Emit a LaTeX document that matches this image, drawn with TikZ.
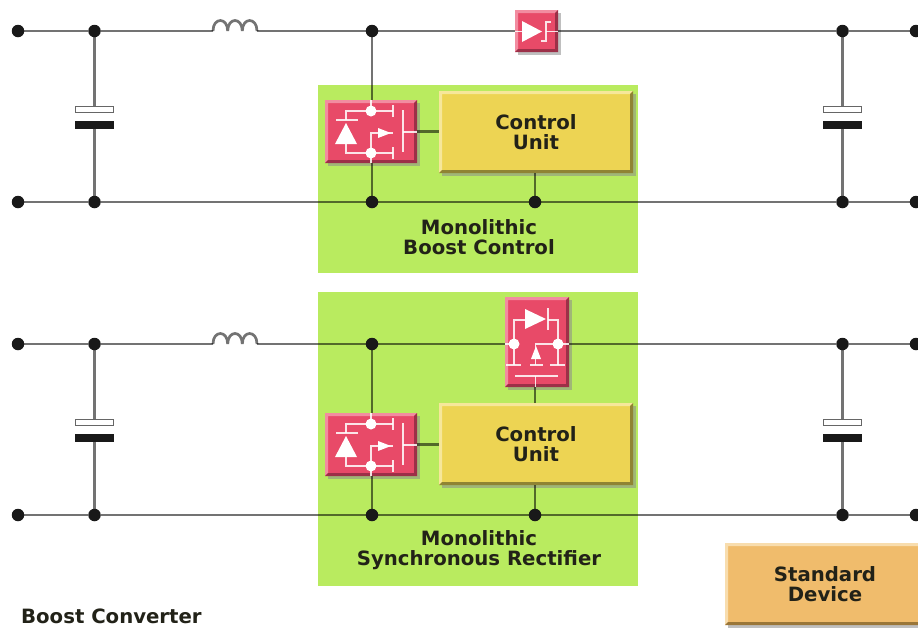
\documentclass[tikz,border=0pt]{standalone}
\usepackage{fontspec}
\setmainfont{DejaVu Sans}
\definecolor{greenbg}{HTML}{B9EB5F}
\definecolor{redbase}{HTML}{E84A68}
\definecolor{redlight}{HTML}{F28CA0}
\definecolor{reddark}{HTML}{9C3048}
\definecolor{yellowbase}{HTML}{EDD453}
\definecolor{yellowlight}{HTML}{F6E79A}
\definecolor{yellowdark}{HTML}{8F8433}
\definecolor{orangebase}{HTML}{F0BC6C}
\definecolor{orangelight}{HTML}{F8DDAE}
\definecolor{orangedark}{HTML}{9A7638}
\definecolor{inkc}{HTML}{222218}
\tikzset{
  x=1pt,y=-1pt,
  wire/.style={draw=black,draw opacity=.55,line width=2.7pt},
  dot/.style={circle,fill=black!90,inner sep=0pt,minimum size=12.5pt},
  sym/.style={draw=white,draw opacity=.85,line width=1.5pt},
  symfill/.style={fill=white},
  symdot/.style={circle,fill=white,inner sep=0pt,minimum size=11pt},
  labeltext/.style={font=\fontsize{19.7}{20}\selectfont\bfseries,text=inkc,align=center,inner sep=0pt},
  panel/.style={fill=greenbg},
  platew/.style={draw=black!60,fill=white,line width=1.4pt,inner sep=0pt,minimum width=38pt,minimum height=6.5pt},
  plateb/.style={fill=black!90,inner sep=0pt,minimum width=39pt,minimum height=8pt},
}
% name, x1, y1, x2, y2, colour stem, text
\newcommand{\bevelblock}[7]{%
  \fill[black!45,opacity=.55] ({#2+3},{#3+3}) rectangle ({#4+3},{#5+3});
  \node[fill=#6base,inner sep=0pt,minimum width={(#4-#2)*1pt},minimum height={(#5-#3)*1pt},labeltext]
    (#1) at ({(#2+#4)/2},{(#3+#5)/2}) {#7};
  \fill[#6light] (#2,#3) -- (#4,#3) -- ({#4-3},{#3+3}) -- ({#2+3},{#3+3}) -- ({#2+3},{#5-3}) -- (#2,#5) -- cycle;
  \fill[#6dark] (#4,#5) -- (#2,#5) -- ({#2+3},{#5-3}) -- ({#4-3},{#5-3}) -- ({#4-3},{#3+3}) -- (#4,#3) -- cycle;
}
\newcommand{\switchsym}{%
  \fill[symfill] (346,123) -- (357,144) -- (335,144) -- cycle;
  \draw[sym] (336,120) -- (358,120);
  \draw[sym] (346,120) -- (346,111) -- (393,111);
  \draw[sym] (393,105) -- (393,117);
  \draw[sym] (346,144) -- (346,153) -- (393,153);
  \draw[sym] (393,147) -- (393,159);
  \draw[sym] (371,153) -- (371,133) -- (393,133);
  \fill[symfill] (391,133) -- (378,128) -- (378,138) -- cycle;
  \draw[sym] (403,110) -- (403,152);
  \draw[sym] (403,132) -- (417,132);
  \node[symdot] at (371,111) {};
  \node[symdot] at (371,153) {};
  \draw[sym] (371,100) -- (371,111);
  \draw[sym] (371,153) -- (371,163);
}
\begin{document}
\begin{tikzpicture}
\clip (0,0) rectangle (918,627);
\fill[white] (0,0) rectangle (918,627);
% panels
\fill[panel] (318,85) rectangle (638,273);
\fill[panel] (318,292) rectangle (638,586);

% === blocks, upper circuit
\bevelblock{topdiode}{515}{10}{558}{52}{red}{}
\bevelblock{swa}{325}{100}{417}{163}{red}{}
\bevelblock{ctrla}{439}{91}{633}{173}{yellow}{Control\\Unit}
% === blocks, lower circuit
\bevelblock{sync}{505}{297}{569}{387}{red}{}
\bevelblock{swb}{325}{413}{417}{476}{red}{}
\bevelblock{ctrlb}{439}{403}{633}{485}{yellow}{Control\\Unit}
\bevelblock{std}{725}{543}{925}{625}{orange}{Standard\\Device}

% === dots
\node[dot] (a1) at (18,31) {};
\node[dot] (a2) at (94.5,31) {};
\node[dot] (a3) at (372,31) {};
\node[dot] (a4) at (842.5,31) {};
\node[dot] (a5) at (916,31) {};
\node[dot] (b1) at (18,202) {};
\node[dot] (b2) at (94.5,202) {};
\node[dot] (b3) at (372,202) {};
\node[dot] (b4) at (535,202) {};
\node[dot] (b5) at (842.5,202) {};
\node[dot] (b6) at (916,202) {};
\node[dot] (c1) at (18,344) {};
\node[dot] (c2) at (94.5,344) {};
\node[dot] (c3) at (372,344) {};
\node[dot] (c4) at (842.5,344) {};
\node[dot] (c5) at (916,344) {};
\node[dot] (d1) at (18,515) {};
\node[dot] (d2) at (94.5,515) {};
\node[dot] (d3) at (372,515) {};
\node[dot] (d4) at (535,515) {};
\node[dot] (d5) at (842.5,515) {};
\node[dot] (d6) at (916,515) {};

% === capacitors
\node[platew] (capa1w) at (94.5,109.5) {};
\node[plateb] (capa1b) at (94.5,125) {};
\node[platew] (capa2w) at (842.5,109.5) {};
\node[plateb] (capa2b) at (842.5,125) {};
\node[platew] (capc1w) at (94.5,422.5) {};
\node[plateb] (capc1b) at (94.5,438) {};
\node[platew] (capc2w) at (842.5,422.5) {};
\node[plateb] (capc2b) at (842.5,438) {};

% === inductor points
\coordinate (la) at (213,31);
\coordinate (la1) at (227.7,31);
\coordinate (la2) at (242.3,31);
\coordinate (lb) at (257,31);
\coordinate (lc) at (213,344);
\coordinate (lc1) at (227.7,344);
\coordinate (lc2) at (242.3,344);
\coordinate (ld) at (257,344);

% === wires, upper
\draw[wire] (a1) -- (a2);
\draw[wire] (a2) -- (la);
\draw[wire,line join=bevel] (la) .. controls +(0,-14) and +(0,-14) .. (la1)
  .. controls +(0,-14) and +(0,-14) .. (la2)
  .. controls +(0,-14) and +(0,-14) .. (lb);
\draw[wire] (lb) -- (a3);
\draw[wire] (a3) -- (topdiode.west |- a3);
\draw[wire] (topdiode.east |- a3) -- (a4);
\draw[wire] (a4) -- (a5);
\draw[wire] (a3) -- (a3 |- swa.north);
\draw[wire] (a3 |- swa.south) -- (b3);
\draw[wire] (swa.east) -- (ctrla.west |- swa.east);
\draw[wire] (b4 |- ctrla.south) -- (b4);
\draw[wire] (b1) -- (b2);
\draw[wire] (b2) -- (b3);
\draw[wire] (b3) -- (b4);
\draw[wire] (b4) -- (b5);
\draw[wire] (b5) -- (b6);
\draw[wire] (a2) -- (capa1w);
\draw[wire] (capa1b) -- (b2);
\draw[wire] (a4) -- (capa2w);
\draw[wire] (capa2b) -- (b5);

% === wires, lower
\draw[wire] (c1) -- (c2);
\draw[wire] (c2) -- (lc);
\draw[wire,line join=bevel] (lc) .. controls +(0,-14) and +(0,-14) .. (lc1)
  .. controls +(0,-14) and +(0,-14) .. (lc2)
  .. controls +(0,-14) and +(0,-14) .. (ld);
\draw[wire] (ld) -- (c3);
\draw[wire] (c3) -- (sync.west |- c3);
\draw[wire] (sync.east |- c3) -- (c4);
\draw[wire] (c4) -- (c5);
\draw[wire] (c3) -- (c3 |- swb.north);
\draw[wire] (c3 |- swb.south) -- (d3);
\draw[wire] (swb.east) -- (ctrlb.west |- swb.east);
\draw[wire] (d4 |- ctrlb.south) -- (d4);
\draw[wire] (d4 |- sync.south) -- (d4 |- ctrlb.north);
\draw[wire] (d1) -- (d2);
\draw[wire] (d2) -- (d3);
\draw[wire] (d3) -- (d4);
\draw[wire] (d4) -- (d5);
\draw[wire] (d5) -- (d6);
\draw[wire] (c2) -- (capc1w);
\draw[wire] (capc1b) -- (d2);
\draw[wire] (c4) -- (capc2w);
\draw[wire] (capc2b) -- (d5);

% === device symbols
\switchsym
\begin{scope}[shift={(0,313)}]
  \switchsym
\end{scope}
% top diode
\fill[symfill] (522,21) -- (542,31.5) -- (522,42) -- cycle;
\draw[sym] (515,31.5) -- (522,31.5);
\draw[sym] (551,22) -- (546,22) -- (546,41) -- (541,41);
\draw[sym] (546,31.5) -- (558,31.5);
% synchronous rectifier
\fill[symfill] (525,309) -- (546,319) -- (525,329) -- cycle;
\draw[sym] (548,308) -- (548,330);
\draw[sym] (514,344) -- (514,320) -- (525,320);
\draw[sym] (548,320) -- (558,320) -- (558,344);
\draw[sym] (514,344) -- (514,365);
\draw[sym] (558,344) -- (558,365);
\draw[sym] (506,365) -- (521,365);
\draw[sym] (550,365) -- (565,365);
\draw[sym] (530,365) -- (543,365);
\draw[sym] (535.5,365) -- (535.5,344) -- (558,344);
\fill[symfill] (536,346) -- (541,359) -- (531,359) -- cycle;
\draw[sym] (515,376) -- (558,376);
\draw[sym] (535.5,376) -- (535.5,387);
\draw[sym] (505,344) -- (514,344);
\draw[sym] (558,344) -- (569,344);
\node[symdot] at (514,344) {};
\node[symdot] at (558,344) {};

% === labels
\node[labeltext] (lab1) at (479,237) {Monolithic\\Boost Control};
\node[labeltext] (lab2) at (479,550) {Monolithic\\Synchronous Rectifier};
\node[labeltext,anchor=west] (lab3) at (21,616) {Boost Converter};
\end{tikzpicture}
\end{document}
